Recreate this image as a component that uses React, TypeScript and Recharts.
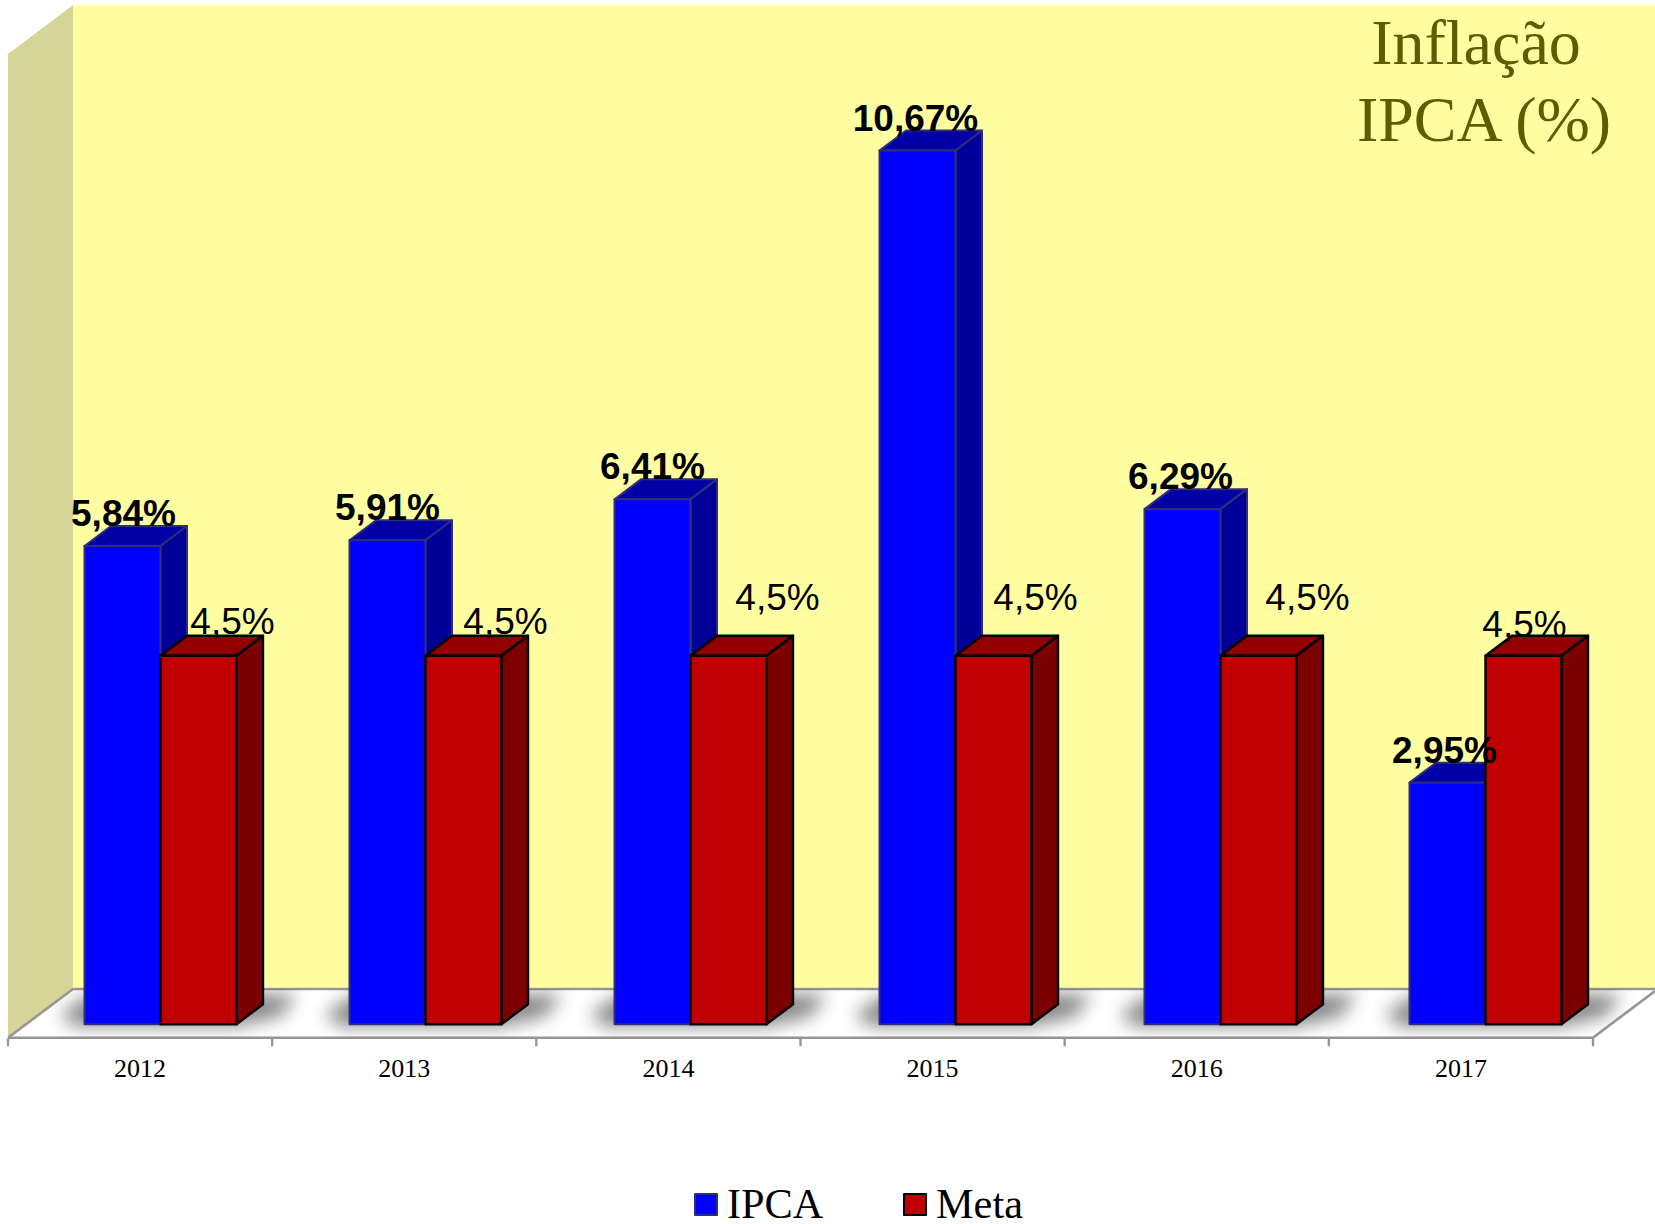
import React from "react";
import { BarChart, Bar, XAxis, YAxis, Legend, LabelList, Customized } from "recharts";

const categories = ["2012", "2013", "2014", "2015", "2016", "2017"];
const ipcaValues = [5.84, 5.91, 6.41, 10.67, 6.29, 2.95];
const metaValues = [4.5, 4.5, 4.5, 4.5, 4.5, 4.5];

const rows = categories.map((year, i) => ({ year, IPCA: ipcaValues[i], Meta: metaValues[i] }));

// label placement relative to each bar (px)
const ipcaLabelDx = [1, 0, 0, -2, -2, -3];
const metaLabelDx = [34, 42, 49, 42, 49, 1];
const metaLabelLift = [1.5, 1.5, 25.5, 25.5, 25.5, -1];

const W = 1655;
const H = 1224;
const DEPTH_X = 26.5;
const DEPTH_Y = 20;
const SERIF = "'Liberation Serif', serif";
const SANS = "'Liberation Sans', sans-serif";

const pct = (v: number) => String(v).replace(".", ",") + "%";

function Box(props: any) {
  const { x, y, width: w, height: h, face, top, side, edge, edgeWidth, shadow } = props;
  const base = y + h;
  const r = x + 2 * w;
  return (
    <g>
      {shadow ? (
        <g clipPath="url(#floorClip)">
          <polygon
            points={`${x - 24},${base - 10} ${x + 6},${base - 30} ${r + 60},${base - 30} ${r + 44},${base - 8} ${r},${base + 2} ${x - 10},${base + 2}`}
            fill="#3c3c3c"
            opacity={0.62}
            filter="url(#floorShadow)"
          />
        </g>
      ) : null}
      <g stroke={edge} strokeWidth={edgeWidth} strokeLinejoin="round">
        <polygon
          points={`${x},${y} ${x + DEPTH_X},${y - DEPTH_Y} ${x + w + DEPTH_X},${y - DEPTH_Y} ${x + w},${y}`}
          fill={top}
        />
        <polygon
          points={`${x + w},${y} ${x + w + DEPTH_X},${y - DEPTH_Y} ${x + w + DEPTH_X},${base - DEPTH_Y} ${x + w},${base}`}
          fill={side}
        />
        <rect x={x} y={y} width={w} height={h} fill={face} />
      </g>
    </g>
  );
}

const IpcaBox = (p: any) => (
  <Box {...p} face="#0000FF" top="#0000A6" side="#000099" edge="#2E2E7C" edgeWidth={2} shadow />
);
const MetaBox = (p: any) => (
  <Box {...p} face="#C00000" top="#930000" side="#7C0000" edge="#000000" edgeWidth={2.4} />
);

const IpcaLabel = (p: any) => (
  <text
    x={p.x + p.width / 2 + ipcaLabelDx[p.index]}
    y={p.y - DEPTH_Y}
    textAnchor="middle"
    fontFamily={SANS}
    fontWeight="bold"
    fontSize={37}
    fill="#000"
  >
    {pct(ipcaValues[p.index])}
  </text>
);

const MetaLabel = (p: any) => (
  <text
    x={p.x + p.width / 2 + metaLabelDx[p.index]}
    y={p.y - DEPTH_Y - metaLabelLift[p.index]}
    textAnchor="middle"
    fontFamily={SANS}
    fontSize={37}
    fill="#000"
  >
    {pct(metaValues[p.index])}
  </text>
);

const BAND = (1593 - 8) / categories.length;

const YearTick = (p: any) => {
  const { x, y, index, payload } = p;
  const left = x - BAND / 2;
  const right = x + BAND / 2;
  const last = index === categories.length - 1;
  return (
    <g>
      <line x1={left} x2={left} y1={y - 15.7} y2={y - 8} stroke="#969696" strokeWidth={2.4} />
      {last ? <line x1={right} x2={right} y1={y - 15.7} y2={y - 8} stroke="#969696" strokeWidth={2.4} /> : null}
      <text x={x} y={y + 23} textAnchor="middle" fontFamily={SERIF} fontSize={26} fill="#000">
        {payload.value}
      </text>
    </g>
  );
};

const FLOOR = "8,1037.7 73,989 1655,989 1593,1037.7";

const Scene = () => (
  <g>
    <defs>
      <filter id="floorShadow" x="-30%" y="-150%" width="160%" height="400%">
        <feGaussianBlur stdDeviation="9" />
      </filter>
      <clipPath id="floorClip">
        <polygon points={FLOOR} />
      </clipPath>
    </defs>
    <rect x={73} y={5} width={W - 73} height={985} fill="#FFFFA2" />
    <polygon points="8,54 73,5 73,989 8,1037.7" fill="#D6D597" />
    <polygon points={FLOOR} fill="#FFFFFF" />
    <polyline points="8,1037.7 73,989 1655,989" fill="none" stroke="#969696" strokeWidth={2.6} />
    <polyline points="8,1037.7 1593,1037.7 1655,991" fill="none" stroke="#969696" strokeWidth={2.6} />
    <g fontFamily={SERIF} fontSize={64} fill="#5F5C00" textAnchor="middle">
      <text x={1476} y={64}>Inflação</text>
      <text x={1484} y={140.7}>IPCA (%)</text>
    </g>
  </g>
);

const LegendContent = (p: any) => (
  <div style={{ position: "relative", width: 340, height: 30, fontFamily: SERIF, fontSize: 42.3 }}>
    {(p.payload || []).map((e: any, i: number) => (
      <div key={e.value} style={{ position: "absolute", left: i * 209, top: 0, height: 30 }}>
        <div
          style={{
            position: "absolute",
            left: 0,
            top: 3,
            width: 20,
            height: 19,
            background: e.color,
            border: `2.4px solid ${i === 0 ? "#2E2E7C" : "#000"}`,
            borderRadius: 1,
          }}
        />
        <span style={{ position: "absolute", left: 33, top: -1, color: "#000", lineHeight: "30px" }}>
          {e.value}
        </span>
      </div>
    ))}
  </div>
);

export default function App() {
  return (
    <div style={{ position: "absolute", left: 0, top: 0, width: W, height: H, background: "#fff" }}>
      <BarChart
        width={W}
        height={H}
        data={rows}
        barGap={0}
        barSize={76}
        margin={{ left: 8, right: 37.5, top: 41.6, bottom: 139.8 }}
      >
        <Customized component={Scene} />
        <XAxis xAxisId="bars" dataKey="year" hide padding={{ left: 19.5, right: 0 }} />
        <XAxis
          xAxisId="main"
          dataKey="year"
          height={60}
          axisLine={false}
          tickLine={false}
          tickSize={0}
          tickMargin={0}
          interval={0}
          padding={{ left: 0, right: 24.5 }}
          tick={YearTick}
        />
        <YAxis hide domain={[0, 12]} />
        <Bar xAxisId="bars" dataKey="IPCA" fill="#0000FF" shape={IpcaBox} isAnimationActive={false}>
          <LabelList dataKey="IPCA" content={IpcaLabel} />
        </Bar>
        <Bar xAxisId="bars" dataKey="Meta" fill="#C00000" shape={MetaBox} isAnimationActive={false}>
          <LabelList dataKey="Meta" content={MetaLabel} />
        </Bar>
        <Legend
          verticalAlign="middle"
          layout="horizontal"
          content={LegendContent}
          wrapperStyle={{ position: "absolute", left: 694, top: 1190, width: 340, height: 30 }}
        />
      </BarChart>
    </div>
  );
}
